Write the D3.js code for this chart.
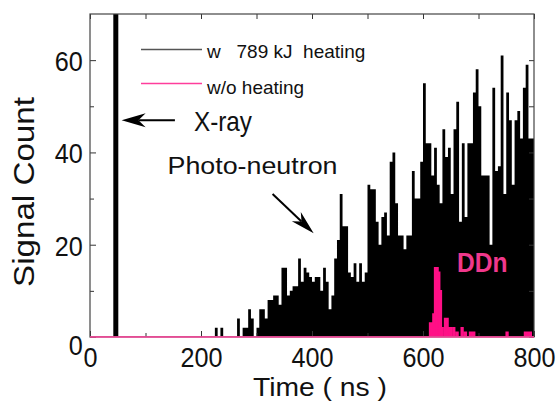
<!DOCTYPE html>
<html><head><meta charset="utf-8">
<script src="https://cdn.jsdelivr.net/npm/d3@7"></script>
<style>
body{margin:0;background:#fff}
svg{display:block}
text{font-family:"Liberation Sans",Arial,Helvetica,sans-serif}
</style>
</head><body>
<svg id="chart" width="557" height="405"></svg>
<script>
// Neutron time-of-flight histograms: with 789 kJ heating vs. without heating
const binStart = 220;           // ns, first bin of the heated-shot histogram
const binWidth = 5;             // ns
const heatedCounts = [
  0,2,0,2,0,0,0,0,0,4,
  0,2,2,6,4,0,2,6,6,4,
  8,8,9,9,7,15,15,9,10,11,
  11,17,12,15,14,13,12,13,13,10,
  15,12,6,9,17,21,31,24,24,14,
  13,16,12,16,12,14,33,32,32,25,
  20,26,27,22,38,40,29,22,22,19,
  22,22,36,30,30,38,55,42,42,35,
  41,33,29,45,39,41,31,45,51,25,
  42,26,42,42,53,58,50,35,35,35,
  20,54,36,37,61,31,53,47,33,47,
  49,43,54,59,43,43
];
// X-ray flash (off scale)
const xrayBin = [42, 51];
const xrayCount = 200;
// Shot without heating: DD neutrons
const ddnWidth = 3;
const ddnTime  = [612,615,618,621,624,627,630,633,639,642,645,648,654,660,669,675,684,687,690,750,783,786,789,792];
const ddnCount = [3,3,5,15,15,14,10,2,4,4,2,2,2,1,2,1,1,1,1,1,1,1,1,1];

const xTicks = [0,200,400,600,800];
const xMinor = [100,300,500,700];
const yTicks = [0,20,40,60];
const yMinor = [10,30,50];

const pink = "#ff0f86";
const frame = {left:90, right:534, top:14, bottom:337};
const x = d3.scaleLinear().domain([0,800]).range([frame.left, frame.right]);
const y = d3.scaleLinear().domain([0,70]).range([frame.bottom, frame.top]);

const svg = d3.select("#chart");
svg.append("rect").attr("width",557).attr("height",405).attr("fill","#fff");
svg.append("defs").append("clipPath").attr("id","plotClip")
  .append("rect").attr("x",frame.left).attr("y",frame.top)
  .attr("width",frame.right-frame.left).attr("height",frame.bottom-frame.top);
const plot = svg.append("g").attr("clip-path","url(#plotClip)");

// heated histogram as a filled step curve
const heatedPts = heatedCounts.map((c,i)=>[binStart+i*binWidth, c]);
heatedPts.push([binStart+heatedCounts.length*binWidth, heatedCounts[heatedCounts.length-1]]);
const stepArea = d3.area().x(d=>x(d[0])).y0(y(0)).y1(d=>y(d[1])).curve(d3.curveStepAfter);
plot.append("path").datum(heatedPts).attr("d",stepArea).attr("fill","#000");

// X-ray peak
plot.append("rect")
  .attr("x",x(xrayBin[0])).attr("width",x(xrayBin[1])-x(xrayBin[0]))
  .attr("y",y(xrayCount)).attr("height",y(0)-y(xrayCount)).attr("fill","#000");

// without heating: step curve from 0 to 800 ns
const ddnPts = [[0,0]];
ddnTime.forEach((t,i)=>{ ddnPts.push([t, ddnCount[i]]); ddnPts.push([t+ddnWidth, 0]); });
ddnPts.push([800,0]);
plot.append("path").datum(ddnPts).attr("d",stepArea).attr("fill",pink);
const stepLine = d3.line().x(d=>x(d[0])).y(d=>y(d[1])).curve(d3.curveStepAfter);
plot.append("path").datum(ddnPts).attr("d",stepLine)
  .attr("fill","none").attr("stroke",pink).attr("stroke-width",1.6);

// axes: inward ticks on all four sides
function styleAxis(g){
  g.select(".domain").remove();
  g.selectAll(".tick line").attr("stroke","#333").attr("stroke-width",1);
}
const tickFont = 28, tickSx = 0.9;

svg.append("g").attr("transform",`translate(0,${frame.bottom})`)
  .call(d3.axisBottom(x).tickValues(xTicks).tickSizeInner(-6).tickSizeOuter(0).tickPadding(10).tickFormat(d3.format("d")))
  .call(styleAxis)
  .call(g=>g.selectAll(".tick text").attr("font-size",tickFont).attr("fill","#111")
    .attr("font-family",'"Liberation Sans",Arial,sans-serif')
    .attr("transform",`scale(${tickSx},1)`));
svg.append("g").attr("transform",`translate(0,${frame.bottom})`)
  .call(d3.axisBottom(x).tickValues(xMinor).tickSizeInner(-4).tickSizeOuter(0).tickFormat(""))
  .call(styleAxis);
svg.append("g").attr("transform",`translate(0,${frame.top})`)
  .call(d3.axisTop(x).tickValues(xTicks.concat(xMinor)).tickSizeInner(-5).tickSizeOuter(0).tickFormat(""))
  .call(styleAxis);

svg.append("g").attr("transform",`translate(${frame.left},0)`)
  .call(d3.axisLeft(y).tickValues(yTicks).tickSizeInner(-6).tickSizeOuter(0).tickPadding(8).tickFormat(d3.format("d")))
  .call(styleAxis)
  .call(g=>g.selectAll(".tick text").attr("font-size",tickFont).attr("fill","#111")
    .attr("font-family",'"Liberation Sans",Arial,sans-serif')
    .attr("dy",d=>d===0?"0.62em":"0.37em")
    .attr("transform",`scale(${tickSx},1)`));
svg.append("g").attr("transform",`translate(${frame.left},0)`)
  .call(d3.axisLeft(y).tickValues(yMinor).tickSizeInner(-4).tickSizeOuter(0).tickFormat(""))
  .call(styleAxis);
svg.append("g").attr("transform",`translate(${frame.right},0)`)
  .call(d3.axisRight(y).tickValues(yTicks.concat(yMinor)).tickSizeInner(-5).tickSizeOuter(0).tickFormat(""))
  .call(styleAxis);

// frame
svg.append("rect").attr("x",frame.left).attr("y",frame.top)
  .attr("width",frame.right-frame.left).attr("height",frame.bottom-frame.top)
  .attr("fill","none").attr("stroke","#444").attr("stroke-width",1.2);

// pink zero line sits on top of the frame
svg.append("line").attr("x1",x(0)).attr("x2",x(800)).attr("y1",y(0)).attr("y2",y(0))
  .attr("stroke","#ff4fa3").attr("stroke-width",1.6);

// axis titles
svg.append("text").attr("x",253).attr("y",396).attr("font-size",25)
  .attr("textLength",134).attr("lengthAdjust","spacingAndGlyphs")
  .attr("fill","#111").text("Time ( ns )");
svg.append("g").attr("transform","translate(33.5,192) rotate(-90)")
  .append("text").attr("text-anchor","middle").attr("font-size",29)
  .attr("textLength",190).attr("lengthAdjust","spacingAndGlyphs")
  .attr("fill","#111").text("Signal Count");

// legend
const legend = svg.append("g");
legend.append("line").attr("x1",141).attr("x2",202).attr("y1",49.5).attr("y2",49.5)
  .attr("stroke","#555").attr("stroke-width",1.4);
legend.append("line").attr("x1",141).attr("x2",202).attr("y1",83.5).attr("y2",83.5)
  .attr("stroke","#ff3d9c").attr("stroke-width",1.4);
legend.append("text").attr("x",207).attr("y",57.5).attr("font-size",19)
  .style("white-space","pre").attr("fill","#111").text("w   789 kJ  heating");
legend.append("text").attr("x",207).attr("y",93.5).attr("font-size",19)
  .attr("fill","#111").text("w/o heating");

// annotations
function arrow(from, tip, head, half){
  const x0=x(from[0]), y0=y(from[1]), x1=x(tip[0]), y1=y(tip[1]);
  const dx=x1-x0, dy=y1-y0, L=Math.hypot(dx,dy), ux=dx/L, uy=dy/L, nx=-uy, ny=ux;
  const bx=x1-ux*head, by=y1-uy*head;
  const notchX=x1-ux*head*0.7, notchY=y1-uy*head*0.7;
  svg.append("line").attr("x1",x0).attr("y1",y0).attr("x2",notchX).attr("y2",notchY)
    .attr("stroke","#000").attr("stroke-width",2);
  svg.append("path").attr("d",
    `M${x1},${y1}L${bx+nx*half},${by+ny*half}L${notchX},${notchY}L${bx-nx*half},${by-ny*half}Z`)
    .attr("fill","#000");
}
arrow([153,47],[57,47],24,7);
svg.append("text").attr("x",194).attr("y",131).attr("font-size",28)
  .attr("textLength",58).attr("lengthAdjust","spacingAndGlyphs").attr("fill","#111").text("X-ray");

arrow([329,31],[403,22.5],24,6.5);
svg.append("text").attr("x",167.5).attr("y",173.5).attr("font-size",23)
  .attr("textLength",170).attr("lengthAdjust","spacingAndGlyphs").attr("fill","#111").text("Photo-neutron");

svg.append("text").attr("x",457).attr("y",271.5).attr("font-size",28).attr("font-weight","bold")
  .attr("textLength",50.5).attr("lengthAdjust","spacingAndGlyphs").attr("fill","#f0388c").text("DDn");
</script>
</body></html>
